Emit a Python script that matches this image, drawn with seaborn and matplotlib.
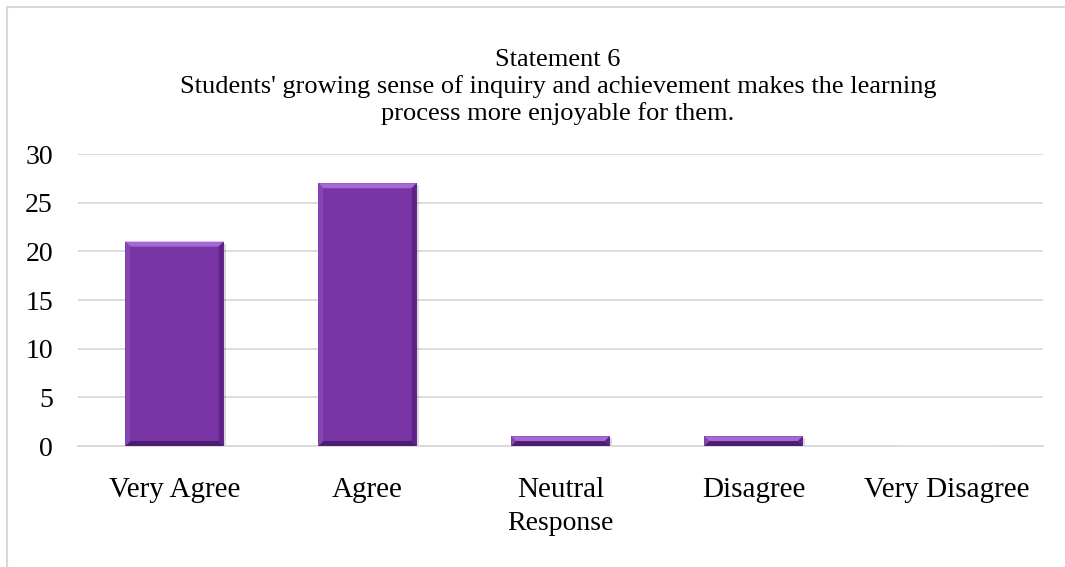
import matplotlib
matplotlib.use("Agg")
import matplotlib.pyplot as plt
from matplotlib.patches import Polygon, Rectangle
import seaborn as sns
import pandas as pd

categories = ["Very Agree", "Agree", "Neutral", "Disagree", "Very Disagree"]
counts = [21, 27, 1, 1, 0]
y_ticks = [0, 5, 10, 15, 20, 25, 30]
title_lines = [
    "Statement 6",
    "Students' growing sense of inquiry and achievement makes the learning",
    "process more enjoyable for them.",
]
x_label = "Response"

sns.set_theme(style="white")
plt.rcParams["font.family"] = ["Liberation Serif", "DejaVu Serif"]
plt.rcParams["text.color"] = "black"
plt.rcParams["axes.labelcolor"] = "black"

W, H = 1065, 567
fig = plt.figure(figsize=(W / 100, H / 100), dpi=100)
ax = fig.add_axes([78 / W, 1 - 446 / H, (1043 - 78) / W, (446 - 154) / H])

df = pd.DataFrame({"Response": categories, "Count": counts})
bar_color = "#7934A6"
sns.barplot(data=df, x="Response", y="Count", color=bar_color, width=0.51,
            saturation=1, ax=ax, zorder=3)

ax.set_ylim(0, 30)
ax.set_xlim(-0.5, len(categories) - 0.5)
ax.set_yticks(y_ticks)
ax.set_yticklabels([str(t) for t in y_ticks])
ax.yaxis.grid(True, color="#D9D9D9", linewidth=1.3, zorder=0)
ax.set_axisbelow(True)
for s in ["top", "right", "left"]:
    ax.spines[s].set_visible(False)
ax.spines["bottom"].set_color("#D9D9D9")
ax.spines["bottom"].set_linewidth(1.3)
ax.tick_params(axis="both", length=0, colors="#000000")
ax.tick_params(axis="x", pad=22, labelsize=21)
ax.tick_params(axis="y", pad=18, labelsize=20)
ax.set_xlabel(x_label, fontsize=20, labelpad=6)
ax.set_ylabel("")

# bevel and soft shadow on every bar, sized in pixels
px_x = len(categories) / (1043 - 78)
px_y = 30 / (446 - 154)
for p in list(ax.patches):
    x0, y0 = p.get_x(), p.get_y()
    w, h = p.get_width(), p.get_height()
    if h <= 0:
        continue
    p.set_edgecolor("none")
    ax.add_patch(Rectangle((x0 + 2 * px_x, y0 - 3 * px_y), w, h + 1 * px_y,
                           facecolor="#000000", alpha=0.15, zorder=2.5,
                           edgecolor="none"))
    bev = 5
    by = min(bev * px_y, h / 2)
    bx = by / px_y * px_x
    x1, y1 = x0 + w, y0 + h
    top = [(x0, y1), (x1, y1), (x1 - bx, y1 - by), (x0 + bx, y1 - by)]
    bot = [(x0, y0), (x1, y0), (x1 - bx, y0 + by), (x0 + bx, y0 + by)]
    left = [(x0, y0), (x0, y1), (x0 + bx, y1 - by), (x0 + bx, y0 + by)]
    right = [(x1, y0), (x1, y1), (x1 - bx, y1 - by), (x1 - bx, y0 + by)]
    for poly, col in [(top, "#A36AD4"), (bot, "#4E1C73"),
                      (left, "#8545B3"), (right, "#5B2485")]:
        ax.add_patch(Polygon(poly, closed=True, facecolor=col,
                             edgecolor="none", zorder=3.5))

for i, line in enumerate(title_lines):
    fig.text(558 / W, 1 - (66 + i * 27) / H, line, ha="center", va="baseline",
             fontsize=19, color="black")

# chart frame
fig.add_artist(plt.Line2D([7 / W, 7 / W], [0, 1 - 7 / H], color="#D9D9D9",
                          linewidth=1.5, transform=fig.transFigure))
fig.add_artist(plt.Line2D([7 / W, 1], [1 - 7 / H, 1 - 7 / H], color="#D9D9D9",
                          linewidth=1.5, transform=fig.transFigure))

fig.savefig("out.png", dpi=100, facecolor="white")
